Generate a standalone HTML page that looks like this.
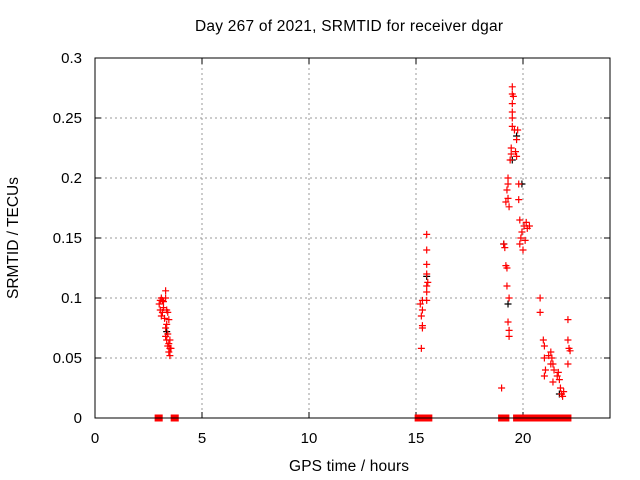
<!DOCTYPE html>
<html><head><meta charset="utf-8"><style>
html,body{margin:0;padding:0;background:#fff;}
svg{display:block;font-family:"Liberation Sans",sans-serif;}
</style></head><body>
<svg id="c" width="640" height="480">
<text x="349" y="31" font-size="15.5" text-anchor="middle" textLength="308">Day 267 of 2021, SRMTID for receiver dgar</text>
<text x="349" y="471" font-size="15.5" text-anchor="middle" textLength="120">GPS time / hours</text>
<text transform="translate(18,238) rotate(-90)" font-size="15.5" text-anchor="middle">SRMTID / TECUs</text>
<g id="grid"></g>
<g id="ticks"></g>
<g id="marks"></g>
<rect x="95" y="58" width="515" height="360" fill="none" stroke="#000" stroke-width="1"/>
</svg>
<script>
const xTicks=[0,5,10,15,20];
const yTicks=[0,0.05,0.1,0.15,0.2,0.25,0.3];
const yTickLabels=["0","0.05","0.1","0.15","0.2","0.25","0.3"];
const redHours=[3.0,3.05,3.1,3.15,3.2,3.1,3.25,3.3,3.3,3.2,3.35,3.4,3.35,3.45,3.3,3.4,3.35,3.45,3.4,3.5,3.45,3.5,3.55,3.3,3.5,3.15,3.05,
15.25,15.3,15.3,15.25,15.3,15.2,15.3,15.5,15.5,15.5,15.55,15.5,15.5,15.5,15.5,
19.0,19.1,19.15,19.2,19.25,19.2,19.25,19.3,19.3,19.3,19.35,19.3,19.35,19.35,19.35,19.25,19.4,19.45,19.45,19.5,19.5,19.5,19.5,19.5,19.5,19.55,19.6,19.7,19.65,19.7,19.75,19.8,19.8,19.85,19.9,19.85,19.95,20.0,20.05,20.1,20.2,20.15,20.3,
20.8,20.8,21.0,20.95,21.0,21.05,21.0,21.2,21.3,21.35,21.3,21.4,21.45,21.4,21.6,21.65,21.7,21.75,21.8,21.85,22.1,22.1,22.15,22.2,22.1,21.9];
const redValues=[0.095,0.09,0.1,0.098,0.092,0.085,0.083,0.1,0.106,0.097,0.09,0.088,0.078,0.082,0.075,0.07,0.065,0.062,0.06,0.058,0.055,0.052,0.058,0.068,0.065,0.088,0.098,
0.058,0.075,0.077,0.085,0.09,0.095,0.098,0.098,0.105,0.11,0.113,0.12,0.128,0.14,0.153,
0.025,0.145,0.142,0.127,0.125,0.18,0.19,0.195,0.2,0.183,0.176,0.08,0.073,0.068,0.1,0.11,0.215,0.22,0.225,0.243,0.25,0.255,0.262,0.27,0.276,0.268,0.24,0.232,0.222,0.218,0.24,0.195,0.182,0.165,0.15,0.145,0.155,0.14,0.16,0.148,0.158,0.163,0.16,
0.1,0.088,0.06,0.065,0.05,0.04,0.035,0.052,0.045,0.05,0.055,0.045,0.04,0.03,0.035,0.038,0.032,0.025,0.02,0.018,0.082,0.065,0.058,0.056,0.045,0.022];
const zeroHours=[2.95,3.0,3.7,3.75,15.1,15.2,15.3,15.4,15.6,19.0,19.1,19.2,19.7,19.8,19.9,20.0,20.2,20.3,20.4,20.5,20.6,20.7,20.8,21.05,21.15,21.4,21.5,21.75,21.85,22.1];
const blackHours=[3.35,15.5,19.1,19.3,19.5,19.7,19.95,21.7];
const blackValues=[0.072,0.118,0.145,0.095,0.215,0.235,0.195,0.02];
const X=h=>95+h*21.4, Y=v=>418-v*1200;
const NS="http://www.w3.org/2000/svg";
const g=document.getElementById('grid'),t=document.getElementById('ticks'),m=document.getElementById('marks');
function mk(tag,attrs,parent){const e=document.createElementNS(NS,tag);for(const k in attrs)e.setAttribute(k,attrs[k]);parent.appendChild(e);return e;}
xTicks.forEach(h=>{const x=X(h);
 if(h>0){const l=mk('line',{x1:x,y1:58,x2:x,y2:418,stroke:'#999','stroke-dasharray':'2,3'},g);}
 mk('line',{x1:x,y1:418,x2:x,y2:412,stroke:'#000'},t);mk('line',{x1:x,y1:58,x2:x,y2:64,stroke:'#000'},t);
 const tx=mk('text',{x:x,y:443,'font-size':15,'text-anchor':'middle'},t);tx.textContent=h;
 });
yTicks.forEach((v,i)=>{const y=Y(v);
 if(v>0&&v<0.3){const l=mk('line',{x1:95,y1:y,x2:610,y2:y,stroke:'#999','stroke-dasharray':'2,3'},g);}
 mk('line',{x1:95,y1:y,x2:101,y2:y,stroke:'#000'},t);mk('line',{x1:610,y1:y,x2:604,y2:y,stroke:'#000'},t);
 const tx=mk('text',{x:82,y:y+5,'font-size':15,'text-anchor':'end'},t);tx.textContent=yTickLabels[i];
 });
function plus(h,v,col){const x=X(h),y=Y(v);
 const p=mk('path',{d:`M${x-3.5},${y}h7M${x},${y-3.5}v7`,stroke:col,'stroke-width':1.2,fill:'none'},m);
 }
blackHours.forEach((h,i)=>plus(h,blackValues[i],'#000'));
redHours.forEach((h,i)=>plus(h,redValues[i],'#f00'));
zeroHours.forEach(h=>{const r=mk('rect',{x:X(h)-3.5,y:414.5,width:7,height:7,fill:'#f00'},m);
 });
</script>
</body></html>
